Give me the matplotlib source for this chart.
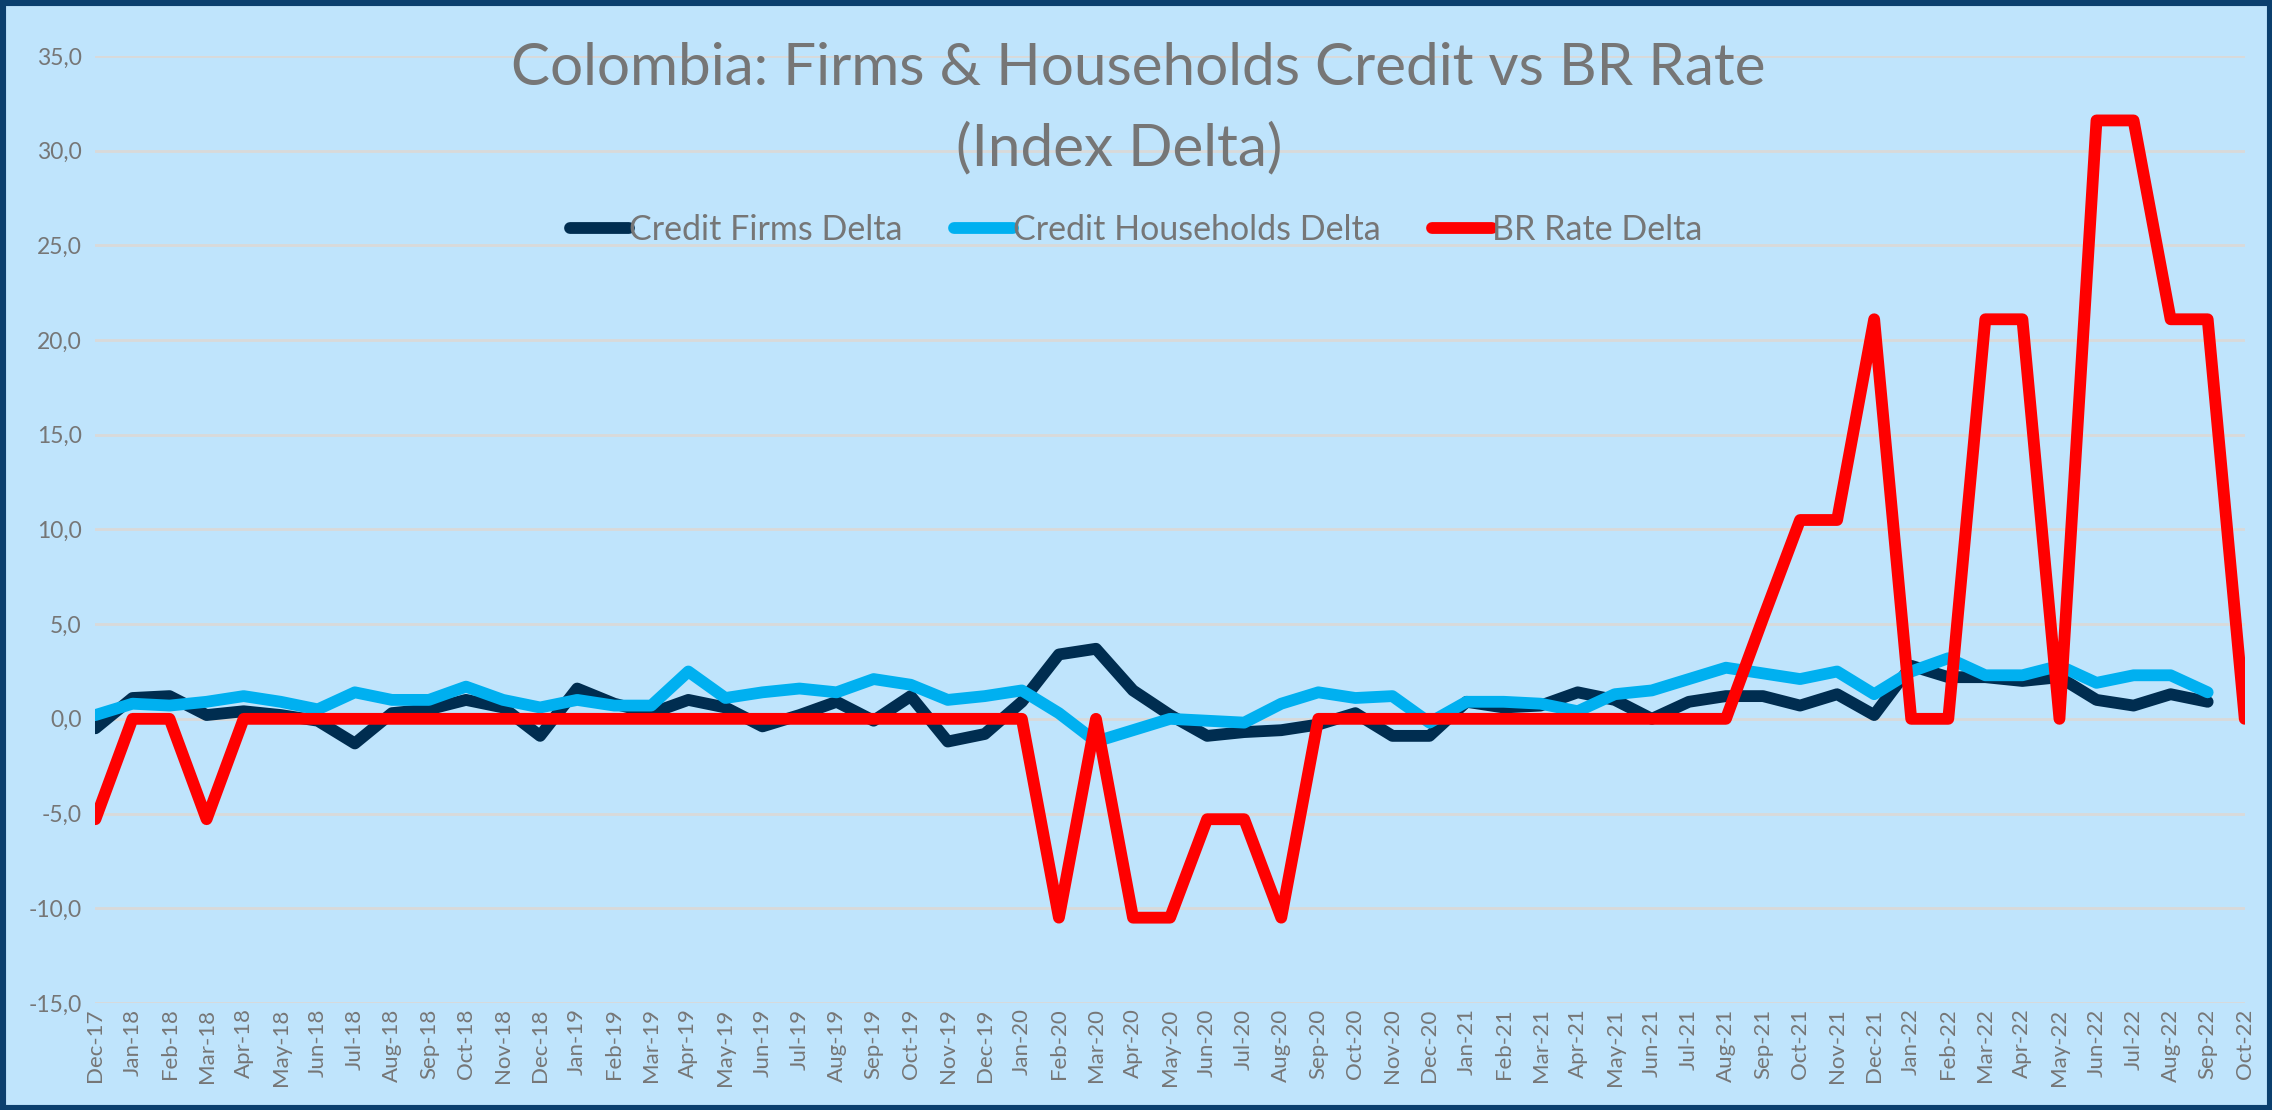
import numpy as np
import matplotlib.pyplot as plt
from matplotlib.patches import Rectangle
from matplotlib.ticker import FuncFormatter

plt.rcParams['font.family'] = ['Lato', 'DejaVu Sans']

# ---- data ----
months = ["Dec-17", "Jan-18", "Feb-18", "Mar-18", "Apr-18", "May-18", "Jun-18", "Jul-18",
          "Aug-18", "Sep-18", "Oct-18", "Nov-18", "Dec-18", "Jan-19", "Feb-19", "Mar-19",
          "Apr-19", "May-19", "Jun-19", "Jul-19", "Aug-19", "Sep-19", "Oct-19", "Nov-19",
          "Dec-19", "Jan-20", "Feb-20", "Mar-20", "Apr-20", "May-20", "Jun-20", "Jul-20",
          "Aug-20", "Sep-20", "Oct-20", "Nov-20", "Dec-20", "Jan-21", "Feb-21", "Mar-21",
          "Apr-21", "May-21", "Jun-21", "Jul-21", "Aug-21", "Sep-21", "Oct-21", "Nov-21",
          "Dec-21", "Jan-22", "Feb-22", "Mar-22", "Apr-22", "May-22", "Jun-22", "Jul-22",
          "Aug-22", "Sep-22", "Oct-22"]

credit_firms = [-0.5, 1.1, 1.2, 0.2, 0.4, 0.2, -0.1, -1.3, 0.3, 0.5,
                1.0, 0.6, -0.9, 1.6, 0.8, 0.3, 1.0, 0.6, -0.4, 0.2,
                0.9, -0.1, 1.2, -1.2, -0.8, 0.9, 3.4, 3.7, 1.5, 0.2,
                -0.9, -0.7, -0.6, -0.3, 0.3, -0.9, -0.9, 0.9, 0.6, 0.7,
                1.4, 1.0, 0.0, 0.9, 1.2, 1.2, 0.7, 1.3, 0.2, 2.8,
                2.2, 2.2, 2.0, 2.2, 1.0, 0.7, 1.3, 0.9, np.nan]

credit_households = [0.2, 0.8, 0.7, 0.9, 1.2, 0.9, 0.5, 1.4, 1.0, 1.0,
                     1.7, 1.0, 0.6, 1.0, 0.7, 0.7, 2.5, 1.1, 1.4, 1.6,
                     1.4, 2.1, 1.8, 1.0, 1.2, 1.5, 0.3, -1.2, -0.6, 0.0,
                     -0.1, -0.2, 0.8, 1.4, 1.1, 1.2, -0.2, 0.9, 0.9, 0.8,
                     0.4, 1.3, 1.5, 2.1, 2.7, 2.4, 2.1, 2.5, 1.3, 2.5,
                     3.2, 2.3, 2.3, 2.8, 1.9, 2.3, 2.3, 1.4, np.nan]

br_rate = [-5.3, 0.0, 0.0, -5.3, 0.0, 0.0, 0.0, 0.0, 0.0, 0.0,
           0.0, 0.0, 0.0, 0.0, 0.0, 0.0, 0.0, 0.0, 0.0, 0.0,
           0.0, 0.0, 0.0, 0.0, 0.0, 0.0, -10.5, 0.0, -10.5, -10.5,
           -5.3, -5.3, -10.5, 0.0, 0.0, 0.0, 0.0, 0.0, 0.0, 0.0,
           0.0, 0.0, 0.0, 0.0, 0.0, 5.3, 10.5, 10.5, 21.1, 0.0,
           0.0, 21.1, 21.1, 0.0, 31.6, 31.6, 21.1, 21.1, 0.0]

bg = "#BFE4FC"
grey = "#767676"

fig = plt.figure(figsize=(22.72, 11.10), dpi=100, facecolor=bg)
ax = fig.add_axes([0.042, 0.0965, 0.946, 0.853])
ax.set_facecolor(bg)

x = np.arange(len(months))
style = dict(lw=8.5, solid_capstyle='round', solid_joinstyle='round')
ax.plot(x, credit_firms, color="#002D50", label="Credit Firms Delta", **style)
ax.plot(x, credit_households, color="#00B0F0", label="Credit Households Delta", **style)
ax.plot(x, br_rate, color="#FF0000", label="BR Rate Delta", **style)

ax.set_xlim(0, len(months) - 1)
ax.set_ylim(-15, 35)
ax.set_yticks(np.arange(-15, 36, 5))
ax.yaxis.set_major_formatter(FuncFormatter(lambda v, p: f"{v:.1f}".replace(".", ",")))
ax.set_xticks(x)
ax.set_xticklabels(months, rotation=90)
ax.tick_params(length=0, colors=grey)
ax.tick_params(axis='x', labelsize=16, pad=4)
ax.tick_params(axis='y', labelsize=16.5, pad=10)
ax.grid(axis='y', color="#D9D9D9", lw=2)
ax.set_axisbelow(True)
for s in ax.spines.values():
    s.set_visible(False)

fig.text(0.501, 0.9387, "Colombia: Firms & Households Credit vs BR Rate",
         ha='center', va='center', fontsize=42, color=grey)
fig.text(0.4925, 0.8658, "(Index Delta)", ha='center', va='center', fontsize=42, color=grey)

fig.legend(loc='center', bbox_to_anchor=(0.5, 0.793), ncol=3, frameon=False,
           fontsize=24.5, labelcolor=grey, handlelength=1.75, handletextpad=0.0,
           columnspacing=1.5)

fig.patches.append(Rectangle((0, 0), 1, 1, transform=fig.transFigure, fill=False,
                             edgecolor="#0B3F6E", lw=8, zorder=10))

fig.savefig("out.png", dpi=100, facecolor=bg)
